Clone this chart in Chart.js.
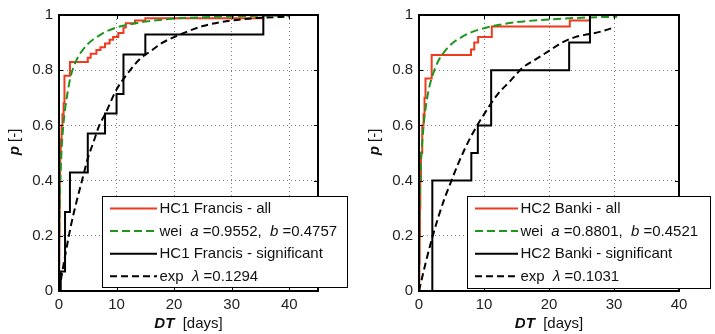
<!DOCTYPE html>
<html><head><meta charset="utf-8">
<script src="https://cdn.jsdelivr.net/npm/chart.js@4.4.1/dist/chart.umd.min.js"></script>
<style>
html,body{margin:0;padding:0;background:#fff;}
#wrap{position:relative;width:715px;height:334px;overflow:hidden;background:#fff}
canvas{position:absolute;top:0}
#c1{left:0;width:360px;height:334px}
#c2{left:360px;width:355px;height:334px}
</style></head><body>
<div id="wrap"><canvas id="c1" width="360" height="334"></canvas><canvas id="c2" width="355" height="334"></canvas></div>
<script>
// ---- tick labels ----
const yTicks = [0, 0.2, 0.4, 0.6, 0.8, 1];
const yTickLabels = ['0', '0.2', '0.4', '0.6', '0.8', '1'];
const xTicks = [0, 10, 20, 30, 40];
const xTickLabels = ['0', '10', '20', '30', '40'];
const xMaxLeft = 45;
const xMaxRight = 40;

// ---- HC1 Francis (left) ----
const hc1AllX = [0, 0.03, 0.06, 0.1, 0.15, 0.2, 0.3, 0.45, 0.6, 0.8, 0.95, 1.9, 5.0, 5.5, 6.5, 7.2, 8.0, 8.8, 9.4, 10.3, 11.2, 11.6, 13.2, 15.0, 35.5];
const hc1AllY = [0, 0.1, 0.2, 0.3, 0.4, 0.48, 0.55, 0.6, 0.64, 0.68, 0.78, 0.83, 0.845, 0.86, 0.873, 0.883, 0.897, 0.91, 0.92, 0.935, 0.955, 0.97, 0.98, 0.988, 1.0];
const hc1WeiX = [0, 0.02, 0.05, 0.1, 0.2, 0.3, 0.5, 0.75, 1, 1.5, 2, 3, 4, 5, 6, 8, 10, 12, 15, 20, 25, 30, 35, 40];
const hc1WeiY = [0, 0.15, 0.22, 0.29, 0.38, 0.44, 0.53, 0.6, 0.65, 0.72, 0.775, 0.835, 0.87, 0.895, 0.912, 0.938, 0.955, 0.965, 0.976, 0.987, 0.992, 0.995, 0.997, 0.998];
const hc1SigX = [0, 0.3, 1.05, 1.9, 5.0, 8.0, 10.0, 11.2, 15.0, 35.5];
const hc1SigY = [0, 0.071, 0.286, 0.429, 0.571, 0.643, 0.714, 0.857, 0.929, 1.0];
const hc1ExpX = [0, 1, 2, 3, 4, 5, 6, 7, 8, 10, 12, 14, 16, 18, 20, 25, 30, 35, 40];
const hc1ExpY = [0, 0.12, 0.23, 0.32, 0.40, 0.48, 0.54, 0.60, 0.64, 0.73, 0.79, 0.84, 0.87, 0.90, 0.92, 0.96, 0.98, 0.99, 0.994];

// ---- HC2 Banki (right) ----
const hc2AllX = [0, 0.05, 0.1, 0.15, 0.2, 0.3, 0.5, 0.7, 0.85, 1.0, 1.95, 8.0, 8.5, 9.1, 11.2, 23.2, 26.3];
const hc2AllY = [0, 0.1, 0.2, 0.3, 0.4, 0.5, 0.6, 0.64, 0.7, 0.77, 0.855, 0.875, 0.9, 0.92, 0.958, 0.98, 1.0];
const hc2WeiX = [0, 0.02, 0.05, 0.1, 0.2, 0.3, 0.5, 0.75, 1, 1.5, 2, 3, 4, 5, 6, 8, 10, 12, 15, 20, 25, 30.5];
const hc2WeiY = [0, 0.17, 0.24, 0.31, 0.40, 0.46, 0.54, 0.61, 0.66, 0.73, 0.775, 0.835, 0.87, 0.895, 0.912, 0.937, 0.952, 0.963, 0.974, 0.984, 0.99, 0.994];
const hc2SigX = [0, 2.05, 8.05, 9.05, 11.1, 23.1, 26.3];
const hc2SigY = [0, 0.4, 0.5, 0.6, 0.8, 0.9, 1.0];
const hc2ExpX = [0, 1, 2, 3, 4, 5, 6, 8, 10, 12, 14, 16, 18, 20, 22, 24, 26, 28, 30];
const hc2ExpY = [0, 0.10, 0.19, 0.27, 0.34, 0.40, 0.46, 0.56, 0.64, 0.71, 0.76, 0.81, 0.84, 0.87, 0.90, 0.92, 0.93, 0.94, 0.955];

// ---- legend texts: [text, italic] segments ----
const legendLeft = [
  [['HC1 Francis - all', 0]],
  [['wei  ', 0], ['a', 1], [' =0.9552,  ', 0], ['b', 1], [' =0.4757', 0]],
  [['HC1 Francis - significant', 0]],
  [['exp  ', 0], ['\u03BB', 1], [' =0.1294', 0]]
];
const legendRight = [
  [['HC2 Banki - all', 0]],
  [['wei  ', 0], ['a', 1], [' =0.8801,  ', 0], ['b', 1], [' =0.4521', 0]],
  [['HC2 Banki - significant', 0]],
  [['exp  ', 0], ['\u03BB', 1], [' =0.1031', 0]]
];
const yTitle = [['p', 'bold italic'], [' [-]', 'normal']];
const xTitle = [['DT', 'bold italic'], ['  [days]', 'normal']];

const FF = '"Liberation Sans", Arial, sans-serif';
const RED = '#ee3b1e', GREEN = '#1e961e', BLACK = '#000';
const zip = (xs, ys) => xs.map((x, i) => ({x: x, y: ys[i]}));

function makeDatasets(allX, allY, weiX, weiY, sigX, sigY, expX, expY) {
  return [
    {data: zip(allX, allY), borderColor: RED, borderWidth: 2, stepped: 'before', pointRadius: 0, order: 4},
    {data: zip(weiX, weiY), borderColor: GREEN, borderWidth: 2, borderDash: [8, 4], cubicInterpolationMode: 'monotone', tension: 0.4, pointRadius: 0, order: 3},
    {data: zip(sigX, sigY), borderColor: BLACK, borderWidth: 2, stepped: 'before', pointRadius: 0, order: 2},
    {data: zip(expX, expY), borderColor: BLACK, borderWidth: 2, borderDash: [7, 4], cubicInterpolationMode: 'monotone', tension: 0.4, pointRadius: 0, order: 1}
  ];
}
const legendStyles = [
  {color: RED, dash: []}, {color: GREEN, dash: [8, 4]}, {color: BLACK, dash: []}, {color: BLACK, dash: [7, 4]}
];

function drawRich(ctx, segs, x, y, align, fontFor) {
  let w = 0;
  segs.forEach(s => { ctx.font = fontFor(s[1]); w += ctx.measureText(s[0]).width; });
  let cx = align === 'center' ? x - w / 2 : x;
  ctx.textAlign = 'left';
  ctx.textBaseline = 'middle';
  segs.forEach(s => { ctx.font = fontFor(s[1]); ctx.fillText(s[0], cx, y); cx += ctx.measureText(s[0]).width; });
}

function axesPlugin(legendRows, box) {
  return {
    id: 'matlabAxes',
    afterDatasetsDraw(chart) {
      const {ctx, chartArea: a, scales: {x, y}} = chart;
      ctx.save();
      ctx.strokeStyle = '#000';
      ctx.lineWidth = 1;
      ctx.setLineDash([]);
      const tl = 4;
      ctx.beginPath();
      x.ticks.forEach(t => {
        const px = Math.round(x.getPixelForValue(t.value)) + 0.5;
        ctx.moveTo(px, a.bottom); ctx.lineTo(px, a.bottom - tl);
        ctx.moveTo(px, a.top); ctx.lineTo(px, a.top + tl);
      });
      y.ticks.forEach(t => {
        const py = Math.round(y.getPixelForValue(t.value)) + 0.5;
        ctx.moveTo(a.left, py); ctx.lineTo(a.left + tl, py);
        ctx.moveTo(a.right, py); ctx.lineTo(a.right - tl, py);
      });
      ctx.stroke();
      ctx.lineWidth = 2;
      ctx.strokeRect(a.left, a.top, a.right - a.left, a.bottom - a.top);
      ctx.restore();
    },
    afterDraw(chart) {
      const {ctx, chartArea: a} = chart;
      ctx.save();
      // legend box
      ctx.fillStyle = '#fff';
      ctx.fillRect(box.x, box.y, box.w, box.h);
      ctx.strokeStyle = '#000';
      ctx.lineWidth = 1;
      ctx.setLineDash([]);
      ctx.strokeRect(box.x + 0.5, box.y + 0.5, box.w, box.h);
      legendRows.forEach((row, i) => {
        const ry = box.y + 12.5 + i * 22.6;
        const st = legendStyles[i];
        ctx.strokeStyle = st.color;
        ctx.lineWidth = 2;
        ctx.setLineDash(st.dash);
        ctx.beginPath();
        ctx.moveTo(box.x + box.l1, ry);
        ctx.lineTo(box.x + box.l2, ry);
        ctx.stroke();
        ctx.setLineDash([]);
        ctx.fillStyle = '#111';
        drawRich(ctx, row, box.x + box.tx, ry + 0.5, 'left', it => (it ? 'italic ' : '') + '15px ' + FF);
      });
      // axis titles
      ctx.fillStyle = '#111';
      drawRich(ctx, xTitle, (a.left + a.right) / 2, 324, 'center', st => st + ' 15px ' + FF);
      ctx.translate(15, 142);
      ctx.rotate(-Math.PI / 2);
      drawRich(ctx, yTitle, 0, 0, 'center', st => st + ' 15px ' + FF);
      ctx.restore();
    }
  };
}

function makeChart(id, xMax, datasets, padRight, legendRows, box) {
  return new Chart(document.getElementById(id), {
    type: 'line',
    data: {datasets: datasets},
    options: {
      responsive: false,
      animation: false,
      events: [],
      layout: {padding: {left: 0, right: padRight, top: 15, bottom: 0}},
      plugins: {legend: {display: false}, tooltip: {enabled: false}},
      scales: {
        x: {
          type: 'linear', min: 0, max: xMax,
          afterBuildTicks: s => { s.ticks = xTicks.map(v => ({value: v})); },
          afterFit: s => { s.height = 43; },
          ticks: {callback: (v) => xTickLabels[xTicks.indexOf(v)], font: {family: FF, size: 15}, color: '#222', padding: 5, maxRotation: 0, autoSkip: false},
          grid: {color: '#808080', lineWidth: 1, drawTicks: false},
          border: {display: false, dash: [1, 3]}
        },
        y: {
          type: 'linear', min: 0, max: 1,
          afterBuildTicks: s => { s.ticks = yTicks.map(v => ({value: v})); },
          afterFit: s => { s.width = 59; },
          ticks: {callback: (v) => yTickLabels[yTicks.indexOf(v)], font: {family: FF, size: 15}, color: '#222', padding: 6, autoSkip: false},
          grid: {color: '#808080', lineWidth: 1, drawTicks: false},
          border: {display: false, dash: [1, 3]}
        }
      }
    },
    plugins: [axesPlugin(legendRows, box)]
  });
}

makeChart('c1', xMaxLeft,
  makeDatasets(hc1AllX, hc1AllY, hc1WeiX, hc1WeiY, hc1SigX, hc1SigY, hc1ExpX, hc1ExpY),
  42, legendLeft, {x: 102, y: 196, w: 245, h: 91, l1: 8, l2: 55, tx: 57.5});
makeChart('c2', xMaxRight,
  makeDatasets(hc2AllX, hc2AllY, hc2WeiX, hc2WeiY, hc2SigX, hc2SigY, hc2ExpX, hc2ExpY),
  36, legendRight, {x: 107, y: 196, w: 243, h: 92, l1: 8, l2: 51, tx: 53.5});
</script>
</body></html>
